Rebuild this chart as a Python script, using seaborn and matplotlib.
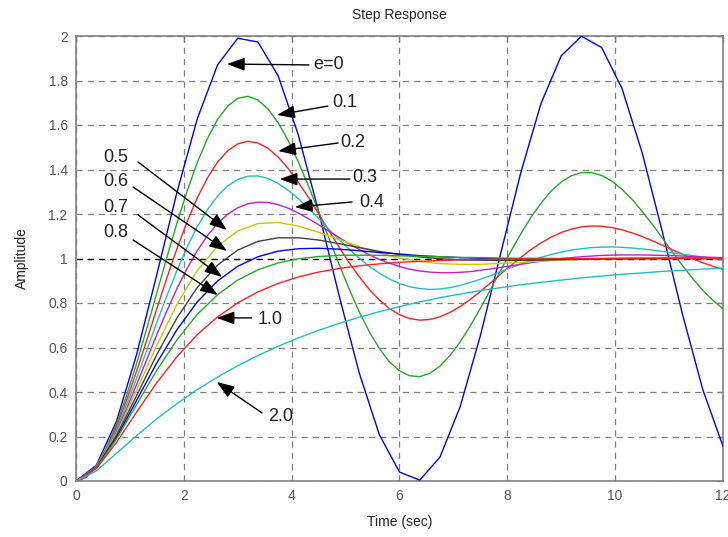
import matplotlib
matplotlib.use("Agg")
import matplotlib.pyplot as plt
import numpy as np
import pandas as pd
import seaborn as sns

# ---- data (time in s, amplitude) ----
t = [0, 0.375, 0.75, 1.125, 1.5, 1.875, 2.25, 2.625, 3.0, 3.375, 3.75, 4.125,
     4.5, 4.875, 5.25, 5.625, 6.0, 6.375, 6.75, 7.125, 7.5, 7.875, 8.25, 8.625,
     9.0, 9.375, 9.75, 10.125, 10.5, 10.875, 11.25, 11.625, 12.0]
t_fine = [0, 0.1875, 0.375, 0.5625, 0.75, 0.9375, 1.125, 1.3125, 1.5, 1.6875,
          1.875, 2.0625, 2.25, 2.4375, 2.625, 2.8125, 3.0, 3.1875, 3.375, 3.5625,
          3.75, 3.9375, 4.125, 4.3125, 4.5, 4.6875, 4.875, 5.0625, 5.25, 5.4375,
          5.625, 5.8125, 6.0, 6.1875, 6.375, 6.5625, 6.75, 6.9375, 7.125, 7.3125,
          7.5, 7.6875, 7.875, 8.0625, 8.25, 8.4375, 8.625, 8.8125, 9.0, 9.1875,
          9.375, 9.5625, 9.75, 9.9375, 10.125, 10.3125, 10.5, 10.6875, 10.875, 11.0625,
          11.25, 11.4375, 11.625, 11.8125, 12.0]

y_e00 = [0, 0.070, 0.268, 0.569, 0.929, 1.300, 1.628, 1.870, 1.990, 1.973, 1.821, 1.554,
         1.211, 0.838, 0.488, 0.209, 0.040, 0.004, 0.107, 0.334, 0.653, 1.021, 1.386, 1.697,
         1.911, 1.999, 1.948, 1.765, 1.476, 1.120, 0.748, 0.411, 0.156]
y_e01 = [0, 0.017, 0.068, 0.149, 0.256, 0.384, 0.529, 0.685, 0.846, 1.007,
         1.161, 1.304, 1.432, 1.539, 1.625, 1.685, 1.720, 1.729, 1.712, 1.672,
         1.610, 1.529, 1.433, 1.325, 1.211, 1.093, 0.977, 0.865, 0.762, 0.672,
         0.596, 0.536, 0.495, 0.473, 0.469, 0.484, 0.516, 0.564, 0.625, 0.697,
         0.776, 0.860, 0.946, 1.031, 1.111, 1.185, 1.249, 1.303, 1.344, 1.372,
         1.386, 1.386, 1.373, 1.348, 1.311, 1.266, 1.212, 1.154, 1.092, 1.029,
         0.968, 0.910, 0.857, 0.812, 0.774]
y_e02 = [0, 0.017, 0.066, 0.143, 0.244, 0.362, 0.494, 0.633, 0.775, 0.914,
         1.046, 1.166, 1.273, 1.362, 1.433, 1.484, 1.515, 1.527, 1.519, 1.495,
         1.456, 1.404, 1.342, 1.274, 1.201, 1.126, 1.053, 0.983, 0.919, 0.862,
         0.814, 0.775, 0.747, 0.730, 0.723, 0.726, 0.738, 0.758, 0.784, 0.816,
         0.852, 0.890, 0.930, 0.968, 1.005, 1.040, 1.070, 1.096, 1.117, 1.132,
         1.142, 1.146, 1.145, 1.139, 1.129, 1.115, 1.099, 1.080, 1.060, 1.039,
         1.019, 0.999, 0.981, 0.965, 0.951]
y_e03 = [0, 0.017, 0.065, 0.138, 0.233, 0.342, 0.462, 0.587, 0.713, 0.834,
         0.948, 1.052, 1.143, 1.219, 1.280, 1.326, 1.355, 1.370, 1.371, 1.360,
         1.337, 1.306, 1.269, 1.226, 1.180, 1.133, 1.087, 1.043, 1.002, 0.965,
         0.934, 0.908, 0.888, 0.873, 0.865, 0.861, 0.863, 0.869, 0.879, 0.892,
         0.907, 0.923, 0.941, 0.958, 0.975, 0.991, 1.005, 1.018, 1.029, 1.038,
         1.044, 1.049, 1.051, 1.052, 1.050, 1.047, 1.043, 1.038, 1.032, 1.026,
         1.019, 1.013, 1.007, 1.001, 0.996]
y_e04 = [0, 0.017, 0.063, 0.134, 0.222, 0.324, 0.434, 0.546, 0.658, 0.766,
         0.866, 0.956, 1.035, 1.103, 1.157, 1.199, 1.228, 1.246, 1.253, 1.252,
         1.242, 1.226, 1.204, 1.179, 1.152, 1.123, 1.095, 1.067, 1.041, 1.017,
         0.996, 0.979, 0.964, 0.952, 0.944, 0.939, 0.936, 0.936, 0.938, 0.941,
         0.947, 0.953, 0.960, 0.967, 0.974, 0.981, 0.988, 0.994, 1.000, 1.004,
         1.008, 1.011, 1.014, 1.015, 1.016, 1.016, 1.016, 1.015, 1.014, 1.013,
         1.011, 1.009, 1.007, 1.005, 1.004]
y_e05 = [0, 0.062, 0.213, 0.408, 0.611, 0.795, 0.946, 1.055, 1.124, 1.157, 1.162, 1.146,
         1.118, 1.086, 1.053, 1.025, 1.002, 0.987, 0.977, 0.974, 0.974, 0.978, 0.982, 0.988,
         0.993, 0.997, 1.001, 1.003, 1.004, 1.004, 1.004, 1.003, 1.003]
y_e06 = [0, 0.060, 0.204, 0.384, 0.569, 0.734, 0.870, 0.970, 1.038, 1.077, 1.093, 1.093,
         1.083, 1.067, 1.049, 1.032, 1.018, 1.007, 0.999, 0.994, 0.992, 0.991, 0.992, 0.993,
         0.995, 0.996, 0.998, 0.999, 1.000, 1.000, 1.001, 1.001, 1.001]
y_e07 = [0, 0.059, 0.195, 0.363, 0.531, 0.681, 0.805, 0.899, 0.965, 1.008, 1.033, 1.044,
         1.046, 1.042, 1.035, 1.027, 1.020, 1.013, 1.008, 1.004, 1.001, 0.999, 0.998, 0.998,
         0.998, 0.998, 0.998, 0.999, 0.999, 1.000, 1.000, 1.000, 1.000]
y_e08 = [0, 0.058, 0.188, 0.344, 0.498, 0.635, 0.749, 0.837, 0.903, 0.949, 0.980, 0.999,
         1.009, 1.014, 1.015, 1.014, 1.012, 1.010, 1.008, 1.005, 1.004, 1.002, 1.001, 1.001,
         1.000, 1.000, 1.000, 1.000, 1.000, 1.000, 1.000, 1.000, 1.000]
y_e10 = [0, 0.055, 0.173, 0.310, 0.442, 0.559, 0.658, 0.737, 0.801, 0.850, 0.888, 0.917,
         0.939, 0.955, 0.967, 0.976, 0.983, 0.987, 0.991, 0.994, 0.995, 0.997, 0.998, 0.998,
         0.999, 0.999, 0.999, 1.000, 1.000, 1.000, 1.000, 1.000, 1.000]
y_e20 = [0, 0.045, 0.124, 0.204, 0.280, 0.348, 0.411, 0.467, 0.518, 0.564, 0.606, 0.643,
         0.677, 0.708, 0.736, 0.761, 0.784, 0.805, 0.824, 0.840, 0.856, 0.869, 0.882, 0.893,
         0.903, 0.913, 0.921, 0.929, 0.935, 0.942, 0.947, 0.952, 0.957]

series_names = ["0", "0.1", "0.2", "0.3", "0.4", "0.5", "0.6", "0.7", "0.8", "1.0", "2.0"]
series_values = [y_e00, y_e01, y_e02, y_e03, y_e04, y_e05, y_e06, y_e07, y_e08, y_e10, y_e20]
series_times = [t, t_fine, t_fine, t_fine, t_fine, t, t, t, t, t, t]
colors = ["#0000FF", "#22AA22", "#FF2020", "#20C0C0", "#C020C0", "#C8C800",
          "#404040", "#0000FF", "#22AA22", "#FF2020", "#20C0C0"]

x_ticks = [0, 2, 4, 6, 8, 10, 12]
y_ticks = [0, 0.2, 0.4, 0.6, 0.8, 1.0, 1.2, 1.4, 1.6, 1.8, 2.0]
y_tick_labels = ["0", "0.2", "0.4", "0.6", "0.8", "1", "1.2", "1.4", "1.6", "1.8", "2"]

# annotation labels: text, text anchor, arrow tail, arrow head
ann_text = ["e=0", "0.1", "0.2", "0.3", "0.4", "0.5", "0.6", "0.7", "0.8", "1.0", "2.0"]
ann_text_xy = [(4.40, 1.87), (4.75, 1.70), (4.90, 1.52), (5.12, 1.365), (5.25, 1.25),
               (0.50, 1.456), (0.50, 1.344), (0.50, 1.231), (0.50, 1.115),
               (3.36, 0.724), (3.56, 0.288)]
ann_tail = [(4.32, 1.870), (4.67, 1.685), (4.86, 1.519), (5.08, 1.357), (5.12, 1.254),
            (1.15, 1.434), (1.06, 1.321), (1.15, 1.196), (1.06, 1.083),
            (3.26, 0.733), (3.45, 0.306)]
ann_head = [(2.80, 1.874), (3.73, 1.645), (3.75, 1.483), (3.78, 1.357), (4.06, 1.231),
            (2.80, 1.128), (2.80, 1.034), (2.71, 0.917), (2.63, 0.836),
            (2.61, 0.733), (2.61, 0.445)]

# ---- build figure ----
sns.set_style("white")
plt.rcParams["font.family"] = ["Liberation Sans", "DejaVu Sans"]

fig = plt.figure(figsize=(7.28, 5.37), dpi=100)
W, H = 728, 537
ax = fig.add_axes([76 / W, 1 - 481 / H, 647 / W, 445 / H])

df = pd.concat(
    [pd.DataFrame({"t": tt, "y": ys, "zeta": name})
     for name, tt, ys in zip(series_names, series_times, series_values)],
    ignore_index=True,
)
sns.lineplot(data=df, x="t", y="y", hue="zeta", hue_order=series_names,
             palette=colors, legend=False, estimator=None, sort=False,
             linewidth=1.0, ax=ax, zorder=3)

ax.set_xlim(0, 12)
ax.set_ylim(0, 2)
ax.set_xticks(x_ticks)
ax.set_yticks(y_ticks)
ax.set_yticklabels(y_tick_labels)
ax.set_xticklabels([str(v) for v in x_ticks])
ax.set_xlabel("")
ax.set_ylabel("")

ax.grid(True, color="#808080", linestyle=(0, (5, 4)), linewidth=0.9)
ax.set_axisbelow(True)
ax.axhline(1.0, color="black", linestyle=(0, (5, 4)), linewidth=0.9, zorder=2)

for s in ax.spines.values():
    s.set_color("#808080")
    s.set_linewidth(1.2)
ax.tick_params(direction="in", top=True, right=True, length=4, width=1,
               color="#808080", labelcolor="#555555", labelsize=10, pad=6)

for txt, txy, tail, head in zip(ann_text, ann_text_xy, ann_tail, ann_head):
    ax.annotate("", xy=head, xytext=tail,
                arrowprops=dict(arrowstyle="-|>,head_length=0.6,head_width=0.22",
                                color="black", lw=1.0, shrinkA=0, shrinkB=0,
                                mutation_scale=18),
                zorder=5)
    ax.text(txy[0], txy[1], txt, fontsize=13, ha="left", va="center",
            color="#222222", zorder=6)

fig.text(399.5 / W, 1 - 15 / H, "Step Response", ha="center", va="center",
         fontsize=10, color="#222222")
fig.text(399.5 / W, 1 - 522 / H, "Time (sec)", ha="center", va="center",
         fontsize=10, color="#222222")
fig.text(22 / W, 1 - 258 / H, "Amplitude", ha="center", va="center",
         rotation=90, fontsize=10, color="#222222")

fig.savefig("out.png", dpi=100)
